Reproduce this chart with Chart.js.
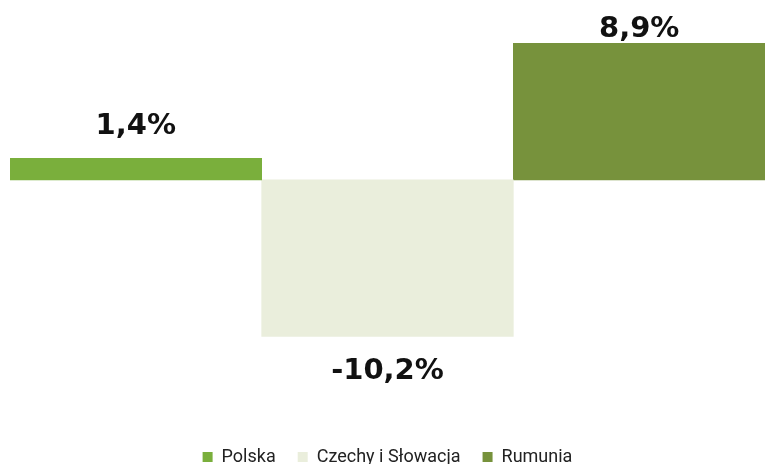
<!DOCTYPE html>
<html><head><meta charset="utf-8">
<script src="https://cdn.jsdelivr.net/npm/chart.js@4"></script>
<style>html,body{margin:0;padding:0;background:#fff}#wrap{width:765px;height:464px}</style>
</head><body><div id="wrap"><canvas id="c"></canvas></div>
<script>
const categories = ['Polska', 'Czechy i Słowacja', 'Rumunia'];
const values = [1.4, -10.2, 8.9];
const labels = ['1,4%', '-10,2%', '8,9%'];
const colors = ['#7aaf3c', '#eaeedc', '#77923c'];

const datasets = categories.map((name, i) => ({
  label: name,
  data: categories.map((_, j) => j === i ? values[i] : null),
  backgroundColor: colors[i],
  borderWidth: 0,
  categoryPercentage: 1,
  barPercentage: 1,
  grouped: false
}));

const labelPlugin = {
  id: 'vlabels',
  afterDatasetsDraw(chart) {
    const ctx = chart.ctx;
    ctx.save();
    ctx.font = 'bold 29px "DejaVu Sans", sans-serif';
    ctx.fillStyle = '#111';
    ctx.textAlign = 'center';
    ctx.textBaseline = 'middle';
    chart.data.datasets.forEach((ds, i) => {
      const bar = chart.getDatasetMeta(i).data[i];
      if (!bar) return;
      let y;
      if (values[i] >= 0) {
        y = Math.max(bar.y - 32, 29);
      } else {
        y = bar.y + 35;
      }
      ctx.fillText(labels[i], bar.x, y);
    });
    ctx.restore();
  }
};

new Chart(document.getElementById('c'), {
  type: 'bar',
  data: { labels: categories, datasets },
  options: {
    responsive: true,
    maintainAspectRatio: false,
    animation: false,
    layout: { padding: { top: 43, left: 10, right: 0, bottom: -12 } },
    scales: {
      x: { display: false, stacked: false },
      y: { display: false, min: -10.2, max: 8.9 }
    },
    plugins: {
      legend: {
        position: 'bottom',
        title: { display: true, text: ' ', font: { size: 1 }, padding: { top: 0, bottom: 88 } },
        labels: {
          font: { family: 'Roboto, "Open Sans", sans-serif', size: 18 },
          color: '#222',
          boxWidth: 10,
          boxHeight: 10,
          padding: 22
        }
      },
      tooltip: { enabled: false }
    }
  },
  plugins: [labelPlugin]
});
</script></body></html>
